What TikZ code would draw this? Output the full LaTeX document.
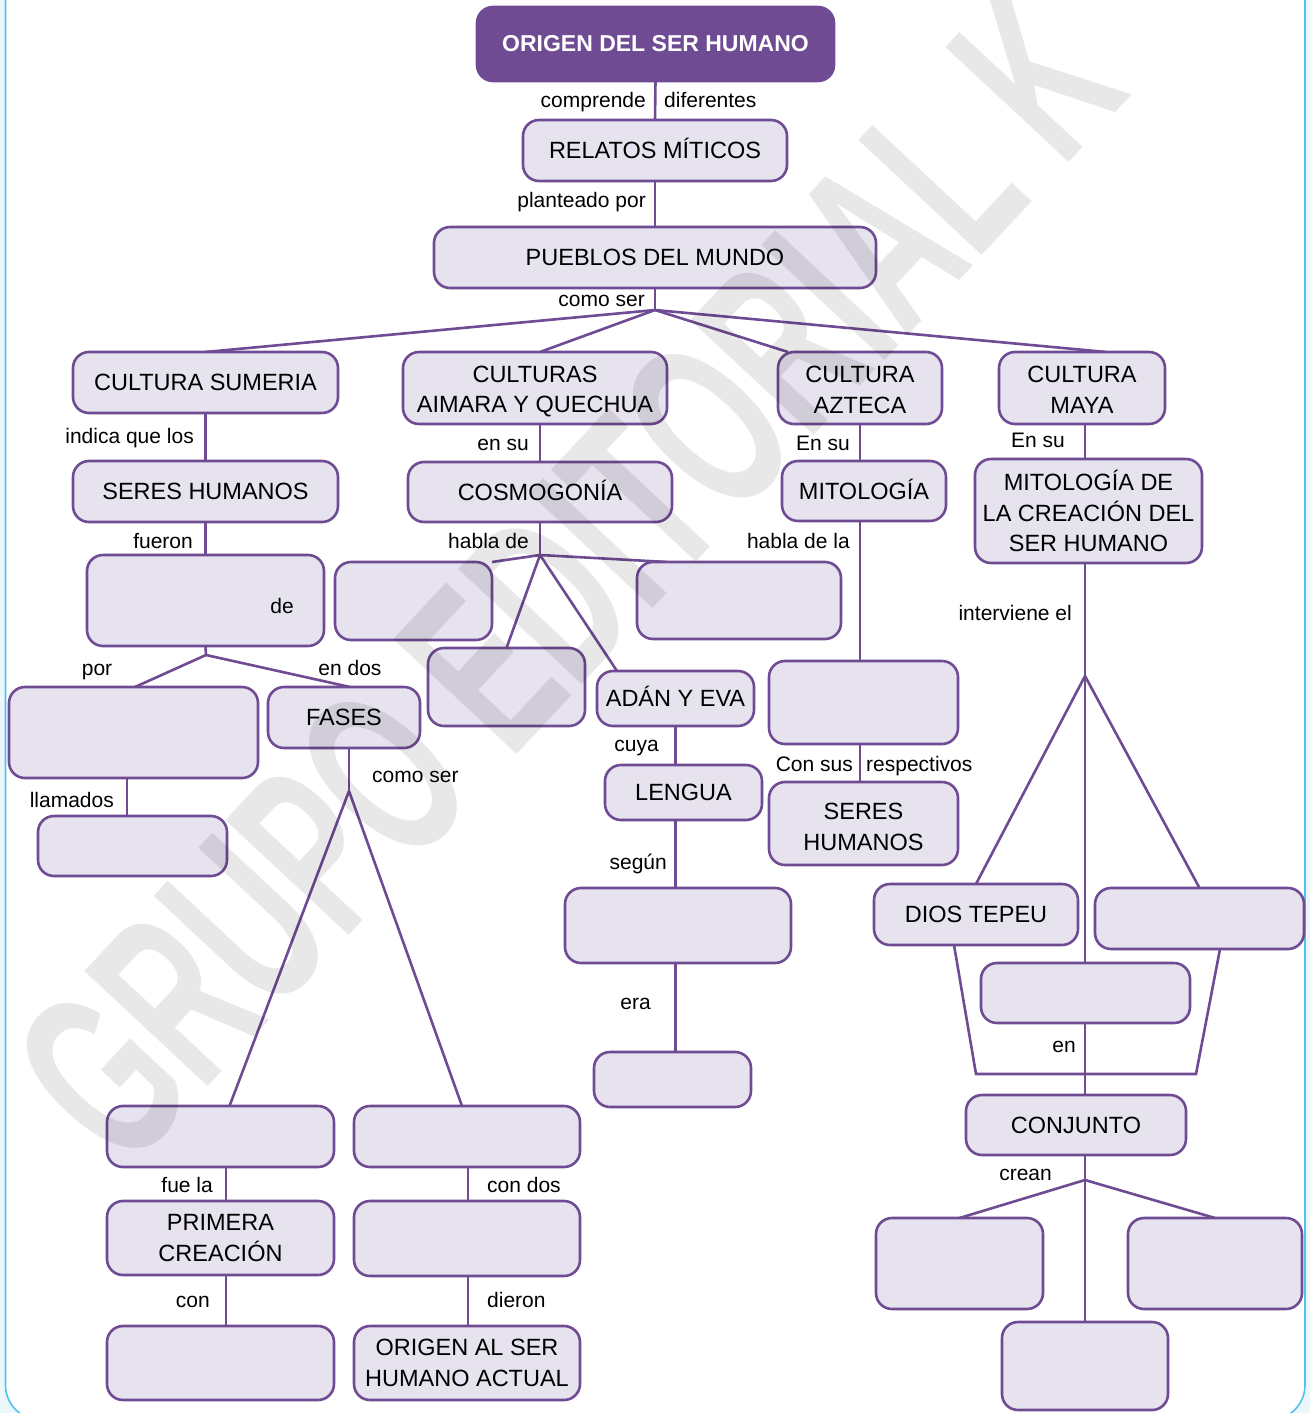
\documentclass[tikz,border=0pt]{standalone}
\usepackage{fontspec}
\setmainfont{Liberation Sans}
\usetikzlibrary{calc}
\definecolor{pur}{RGB}{111,75,147}
\definecolor{lav}{RGB}{230,226,238}
\definecolor{frm}{RGB}{80,195,233}
\definecolor{sky}{RGB}{236,247,252}
\pgfdeclarelayer{background}
\pgfdeclarelayer{fore}
\pgfsetlayers{background,main,fore}
\newcommand{\mybox}[7][]{\node[box, minimum width={(#5-#3)*1pt}, minimum height={(#6-#4)*1pt}, #1] (#2) at ({(#3+#5)/2},{(#4+#6)/2}) {#7};}
\newcommand{\tstrut}[1]{\rule{0pt}{#1pt}}
\tikzset{
  box/.style={draw=pur, fill=lav, line width=2.6pt, rounded corners=16pt, inner sep=0pt, outer sep=0pt, align=center, font=\fontsize{23.5}{30.5}\selectfont},
  lbl/.style={inner sep=0pt, yshift=-5pt, font=\fontsize{21}{25}\selectfont},
  lnk/.style={draw=pur, line width=2.6pt},
}
\begin{document}
\begin{tikzpicture}[x=1pt,y=-1pt]
\useasboundingbox (0,0) rectangle (1310,1413);
\begin{pgfonlayer}{background}
\fill[sky] (0,0) rectangle (1310,1413);
\draw[frm, fill=white, line width=1.6pt, rounded corners=35pt] (5.5,-60) rectangle (1305,1420);
\end{pgfonlayer}

% boxes
\node[box, fill=pur, text=white, font=\bfseries\fontsize{23}{28}\selectfont, minimum width=357pt, minimum height=74pt] (orig) at (655.5,44) {ORIGEN DEL SER HUMANO};
\mybox{rel}{523}{120}{787}{181}{RELATOS M\smash{Í}TICOS}
\mybox{pue}{434}{227}{876}{288}{PUEBLOS DEL MUNDO}
\mybox{sum}{73}{352}{338}{413}{CULTURA SUMERIA}
\mybox{aim}{403}{352}{667}{424}{\tstrut{23}CULTURAS\\AIMARA Y QUECHUA}
\mybox{azt}{778}{352}{942}{424}{\tstrut{20}CULTURA\\AZTECA}
\mybox{may}{999}{352}{1165}{424}{\tstrut{20}CULTURA\\MAYA}
\mybox{serA}{73}{461}{338}{522}{SERES HUMANOS}
\mybox{deb}{87}{555}{324}{646}{}
\mybox{porb}{9}{687}{258}{778}{}
\mybox{fas}{268}{687}{420}{748}{FASES}
\mybox{lla}{38}{816}{227}{876}{}
\mybox{eA}{107}{1106}{334}{1167}{}
\mybox{eB}{354}{1106}{580}{1167}{}
\mybox{pri}{107}{1201}{334}{1275}{PRIMERA\\CREACIÓN}
\mybox{eC}{107}{1326}{334}{1400}{}
\mybox{eD}{354}{1201}{580}{1276}{}
\mybox{oriB}{354}{1326}{580}{1400}{ORIGEN AL SER\\HUMANO ACTUAL}
\mybox{cos}{408}{462}{672}{522}{COSMOGON\smash{Í}A}
\mybox{eE}{335}{562}{492}{640}{}
\mybox{eF}{637}{562}{841}{639}{}
\mybox{eG}{428}{648}{585}{726}{}
\mybox{ada}{597}{671}{754}{726}{AD\smash{Á}N Y EVA}
\mybox{len}{605}{765}{762}{820}{LENGUA}
\mybox{eH}{565}{888}{791}{963}{}
\mybox{eI}{594}{1052}{751}{1107}{}
\mybox{mit}{782}{461}{946}{521}{MITOLOG\smash{Í}A}
\mybox{eJ}{769}{661}{958}{744}{}
\mybox{serB}{769}{782}{958}{865}{\tstrut{23}SERES\\HUMANOS}
\mybox{mcr}{975}{459}{1202}{563}{MITOLOGÍA DE\\LA CREACIÓN DEL\\SER HUMANO}
\mybox{tep}{874}{884}{1078}{945}{DIOS TEPEU}
\mybox{eK}{1095}{888}{1304}{949}{}
\mybox{eL}{981}{963}{1190}{1023}{}
\mybox{con}{966}{1095}{1186}{1155}{CONJUNTO}
\mybox{eM}{876}{1218}{1043}{1309}{}
\mybox{eN}{1128}{1218}{1302}{1309}{}
\mybox{eO}{1002}{1322}{1168}{1410}{}

% junctions
\coordinate (j1) at (655,310);
\coordinate (j2) at (206,655);
\coordinate (j3) at (349,791);
\coordinate (j4) at (540,555);
\coordinate (j5) at (1085,676);
\coordinate (j6) at (1085,1180);
\coordinate (cM) at ([xshift=3pt]may.south);
\coordinate (cA) at (ada.south);
\coordinate (cZ) at (azt.south);
\coordinate (tl) at (976,1074);
\coordinate (tr) at (1196,1074);

\begin{pgfonlayer}{background}
\draw[lnk] (orig.south) -- (rel.north);
\draw[lnk] (rel.south) -- (pue.north);
\draw[lnk] (pue.south) -- (j1);
\draw[lnk] (j1) -- (sum.north);
\draw[lnk] (j1) -- ([xshift=5pt]aim.north);
\draw[lnk] (j1) -- ([xshift=-72pt]azt.north);
\draw[lnk] (j1) -- ([xshift=24pt]may.north);
\draw[lnk] (sum.south) -- (serA.north);
\draw[lnk] (serA.south) -- (deb.north);
\draw[lnk] (deb.south) -- (j2);
\draw[lnk] (j2) -- ([xshift=1.5pt]porb.north);
\draw[lnk] (j2) -- ([xshift=6pt]fas.north);
\draw[lnk] ([xshift=-6.5pt]porb.south) -- ([xshift=-6.5pt]porb.south |- lla.north);
\draw[lnk] ([xshift=5pt]fas.south) -- (j3);
\draw[lnk] (j3) -- ([xshift=9pt]eA.north);
\draw[lnk] (j3) -- ([xshift=-5pt]eB.north);
\draw[lnk] ([xshift=5.5pt]eA.south) -- ([xshift=5.5pt]pri.north);
\draw[lnk] ([xshift=5.5pt]pri.south) -- ([xshift=5.5pt]eC.north);
\draw[lnk] ([xshift=1pt]eB.south) -- ([xshift=1pt]eD.north);
\draw[lnk] ([xshift=1pt]eD.south) -- ([xshift=1pt]oriB.north);
\draw[lnk] ([xshift=5pt]aim.south) -- (cos.north);
\draw[lnk] (cos.south) -- (j4);
\draw[lnk] (j4) -- (eE.north east);
\draw[lnk] (j4) -- ([xshift=30pt]eF.north west);
\draw[lnk] (j4) -- (eG.north);
\draw[lnk] (j4) -- ([xshift=20pt]ada.north west);
\draw[lnk] (cA) -- (cA |- eI.north);
\draw[lnk] (cZ) -- (cZ |- serB.north);
\draw[lnk] (cM) -- (cM |- eO.north);
\draw[lnk] (j5) -- (tep.north);
\draw[lnk] (j5) -- (eK.north);
\draw[lnk] ([xshift=-22pt]tep.south) -- (tl) -- (tr) -- ([xshift=20.5pt]eK.south);
\draw[lnk] (j6) -- (eM.north);
\draw[lnk] (j6) -- (eN.north);
\end{pgfonlayer}

% labels
\node[lbl, anchor=mid east] (l1) at (646,100) {comprende};
\node[lbl, anchor=mid west] (l2) at (664,100) {diferentes};
\node[lbl, anchor=mid east] (l3) at (646,200) {planteado por};
\node[lbl, anchor=mid east] (l4) at (645,299) {como ser};
\node[lbl, anchor=mid east] (l5) at (194,436) {indica que los};
\node[lbl, anchor=mid east] (l6) at (193,541) {fueron};
\node[lbl, anchor=mid] (l7) at (282,606) {de};
\node[lbl, anchor=mid] (l8) at (97,668) {por};
\node[lbl, anchor=mid] (l9) at (350,668) {en dos};
\node[lbl, anchor=mid east] (l10) at (114,800) {llamados};
\node[lbl, anchor=mid west] (l11) at (372,775) {como ser};
\node[lbl, anchor=mid east] (l12) at (213,1185) {fue la};
\node[lbl, anchor=mid east] (l13) at (210,1300) {con};
\node[lbl, anchor=mid west] (l14) at (487,1185) {con dos};
\node[lbl, anchor=mid west] (l15) at (487,1300) {dieron};
\node[lbl, anchor=mid east] (l16) at (529,443) {en su};
\node[lbl, anchor=mid east] (l17) at (529,541) {habla de};
\node[lbl, anchor=mid east] (l18) at (659,744) {cuya};
\node[lbl, anchor=mid east] (l19) at (667,862) {según};
\node[lbl, anchor=mid east] (l20) at (651,1002) {era};
\node[lbl, anchor=mid east] (l21) at (850,443) {En su};
\node[lbl, anchor=mid east] (l22) at (850,541) {habla de la};
\node[lbl, anchor=mid east] (l23) at (853,764) {Con sus};
\node[lbl, anchor=mid west] (l24) at (866,764) {respectivos};
\node[lbl, anchor=mid east] (l25) at (1065,440) {En su};
\node[lbl, anchor=mid east] (l26) at (1072,613) {interviene el};
\node[lbl, anchor=mid east] (l27) at (1076,1045) {en};
\node[lbl, anchor=mid east] (l28) at (1052,1173) {crean};

% watermark
\begin{pgfonlayer}{fore}
\node[anchor=base west, rotate=47, xscale=0.585, inner sep=0pt, text=black, text opacity=0.09, font=\bfseries\fontsize{245}{245}\selectfont] (wm) at (125,1175) {GRUPO EDITORIAL K};
\end{pgfonlayer}
\end{tikzpicture}
\end{document}
